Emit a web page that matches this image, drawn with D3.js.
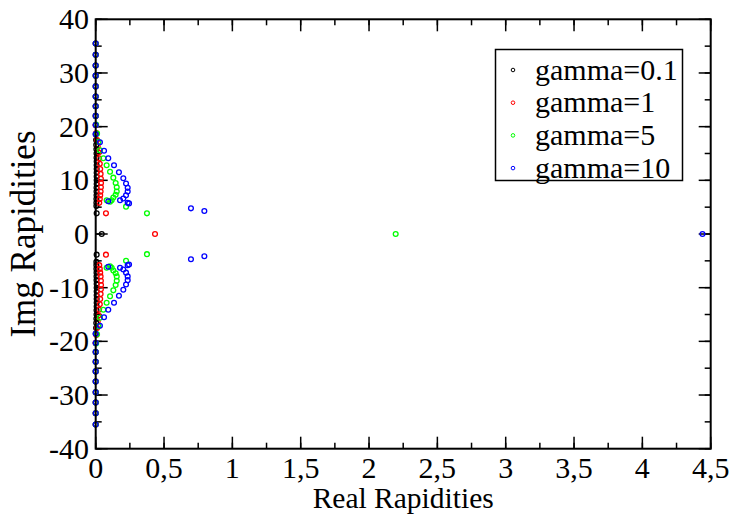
<!DOCTYPE html>
<html><head><meta charset="utf-8">
<script src="https://cdn.jsdelivr.net/npm/d3@7"></script>
<style>body{margin:0;background:#fff}svg{display:block}</style>
</head><body>
<svg id="c" width="733" height="518"></svg>
<script>
// ---- data ----
const seriesNames = ["gamma=0.1", "gamma=1", "gamma=5", "gamma=10"];
const seriesColors = ["#000000", "#ff0000", "#00ff00", "#0000ff"];
const xTicks = [0, 0.5, 1, 1.5, 2, 2.5, 3, 3.5, 4, 4.5];
const xTickLabels = ["0", "0,5", "1", "1,5", "2", "2,5", "3", "3,5", "4", "4,5"];
const yTicks = [-40, -30, -20, -10, 0, 10, 20, 30, 40];
const yTickLabels = ["-40", "-30", "-20", "-10", "0", "10", "20", "30", "40"];

const g01x = [0,0,0,0,0,0,0,0,0,0, 0.003,0.004,0.005,0.006,0.006,0.007,0.007,0.007,0.007,0.007,0.007,0.007,0.006,0.006,0.006,0.005,0.005,0.005, 0.007, 0.044,
  0.007, 0.005,0.005,0.005,0.006,0.006,0.006,0.007,0.007,0.007,0.007,0.007,0.007,0.007,0.006,0.006,0.005,0.004,0.003, 0,0,0,0,0,0,0,0,0,0];
const g01y = [35.5,33.4,31.4,29.5,27.5,25.6,23.8,22.0,20.3,18.6, 17.5,16.6,15.8,15.0,14.2,13.5,12.8,12.1,11.4,10.7,10.0,9.3,8.6,7.9,7.2,6.5,5.8,5.2, 3.85, 0,
  -3.85, -5.2,-5.8,-6.5,-7.2,-7.9,-8.6,-9.3,-10.0,-10.7,-11.4,-12.1,-12.8,-13.5,-14.2,-15.0,-15.8,-16.6,-17.5, -18.6,-20.3,-22.0,-23.8,-25.6,-27.5,-29.5,-31.4,-33.4,-35.5];

const g1x = [0,0,0,0,0,0,0,0,0, 0.005,0.010,0.015,0.020,0.025,0.030,0.033,0.036,0.038,0.039,0.038,0.036,0.033,0.030,0.026, 0.075, 0.434,
  0.075, 0.026,0.030,0.033,0.036,0.038,0.039,0.038,0.036,0.033,0.030,0.025,0.020,0.015,0.010,0.005, 0,0,0,0,0,0,0,0,0];
const g1y = [35.5,33.4,31.4,29.5,27.5,25.6,23.8,22.0,20.3, 18.8,17.5,16.3,15.2,14.1,13.1,12.1,11.2,10.3,9.5,8.7,7.9,7.2,6.5,5.8, 3.85, 0,
  -3.85, -5.8,-6.5,-7.2,-7.9,-8.7,-9.5,-10.3,-11.2,-12.1,-13.1,-14.1,-15.2,-16.3,-17.5,-18.8, -20.3,-22.0,-23.8,-25.6,-27.5,-29.5,-31.4,-33.4,-35.5];

const g5x = [0,0,0,0,0,0,0,0,0.003, 0.010,0.020,0.031,0.056,0.080,0.105,0.129,0.146,0.154,0.154,0.146,0.129,0.117,0.105,0.080, 0.222, 0.375, 2.195,
  0.375, 0.222, 0.080,0.105,0.117,0.129,0.146,0.154,0.154,0.146,0.129,0.105,0.080,0.056,0.031,0.020,0.010, 0.003,0,0,0,0,0,0,0,0];
const g5y = [35.5,33.4,31.4,29.5,27.5,25.6,23.8,22.0,20.4, 18.7,17.2,15.6,14.1,12.8,11.6,10.5,9.5,8.7,7.9,7.3,6.8,6.3,6.0,6.3, 5.1, 3.85, 0,
  -3.75, -5.0, -6.3,-6.0,-6.3,-6.8,-7.3,-7.9,-8.7,-9.5,-10.5,-11.6,-12.8,-14.1,-15.6,-17.2,-18.7, -20.4,-22.0,-23.8,-25.6,-27.5,-29.5,-31.4,-33.4,-35.5];

const g10x = [0,0,0,0,0,0,0,0,0,0, 0.031,0.061,0.092,0.134,0.170,0.202,0.222,0.234,0.234,0.222,0.202,0.178,0.092,0.234,0.244, 0.697,0.795, 4.44,
  0.795,0.697, 0.244,0.234,0.092,0.178,0.202,0.222,0.234,0.234,0.222,0.202,0.170,0.134,0.092,0.061,0.031, 0,0,0,0,0,0,0,0,0,0];
const g10y = [35.5,33.4,31.4,29.5,27.5,25.6,23.8,22.0,20.3,18.6, 17.1,15.5,14.1,12.8,11.5,10.4,9.4,8.6,7.9,7.2,6.6,6.3,6.1,5.8,5.7, 4.78,4.28, 0,
  -4.15,-4.71, -5.7,-5.8,-6.1,-6.3,-6.6,-7.2,-7.9,-8.6,-9.4,-10.4,-11.5,-12.8,-14.1,-15.5,-17.1, -18.6,-20.3,-22.0,-23.8,-25.6,-27.5,-29.5,-31.4,-33.4,-35.5];

const seriesX = [g01x, g1x, g5x, g10x];
const seriesY = [g01y, g1y, g5y, g10y];

// ---- layout ----
const FONT = "'Liberation Serif', 'Times New Roman', 'DejaVu Serif', serif";
const L = 95.7, R = 710.7, T = 19.3, B = 448.7;
const svg = d3.select("#c");
const x = d3.scaleLinear().domain([0, 4.5]).range([L, R]);
const y = d3.scaleLinear().domain([-40, 40]).range([B, T]);

const xMinor = d3.range(0, 4.5001, 0.25);
const yMinor = d3.range(-40, 40.001, 5);

function tickLines(sel, orientH, vals, len, atEdge, dir) {
  sel.selectAll(null).data(vals).enter().append("line")
    .attr("x1", d => orientH ? x(d) : atEdge)
    .attr("x2", d => orientH ? x(d) : atEdge + dir * len)
    .attr("y1", d => orientH ? atEdge : y(d))
    .attr("y2", d => orientH ? atEdge + dir * len : y(d))
    .attr("stroke", "#000").attr("stroke-width", 1.5);
}
const tg = svg.append("g");
tickLines(tg, true, xMinor, 6, B, -1);
tickLines(tg, true, xTicks, 12, B, -1);
tickLines(tg, true, xMinor, 6, T, 1);
tickLines(tg, true, xTicks, 12, T, 1);
tickLines(tg, false, yMinor, 6, L, 1);
tickLines(tg, false, yTicks, 12, L, 1);
tickLines(tg, false, yMinor, 6, R, -1);
tickLines(tg, false, yTicks, 12, R, -1);

// data points
seriesX.forEach((xs, si) => {
  const pts = xs.map((v, i) => [v, seriesY[si][i]]);
  svg.append("g").selectAll("circle").data(pts).enter().append("circle")
    .attr("cx", d => x(d[0])).attr("cy", d => y(d[1])).attr("r", 2.4)
    .attr("fill", "none").attr("stroke", seriesColors[si]).attr("stroke-width", 1.3);
});

// frame
svg.append("rect").attr("x", L).attr("y", T).attr("width", R - L).attr("height", B - T)
  .attr("fill", "none").attr("stroke", "#000").attr("stroke-width", 2);

// tick labels
svg.append("g").selectAll("text").data(xTicks).enter().append("text")
  .attr("x", d => x(d)).attr("y", 478).attr("text-anchor", "middle")
  .attr("font-family", FONT).attr("font-size", 30).text((d, i) => xTickLabels[i]);
svg.append("g").selectAll("text").data(yTicks).enter().append("text")
  .attr("x", 89).attr("y", d => y(d) + 10).attr("text-anchor", "end")
  .attr("font-family", FONT).attr("font-size", 30).text((d, i) => yTickLabels[i]);

// axis titles
svg.append("text").attr("x", (L + R) / 2).attr("y", 508).attr("text-anchor", "middle")
  .attr("font-family", FONT).attr("font-size", 29.5).text("Real Rapidities");
svg.append("text").attr("transform", `translate(35,${y(0)}) rotate(-90)`).attr("text-anchor", "middle")
  .attr("font-family", FONT).attr("font-size", 35).text("Img Rapidities");

// legend
const lg = svg.append("g");
lg.append("rect").attr("x", 495.5).attr("y", 49.5).attr("width", 187).attr("height", 131)
  .attr("fill", "#fff").attr("stroke", "#000").attr("stroke-width", 1.5);
seriesNames.forEach((n, i) => {
  const cy = 70 + i * 32.7;
  lg.append("circle").attr("cx", 513).attr("cy", cy).attr("r", 1.8)
    .attr("fill", "none").attr("stroke", seriesColors[i]).attr("stroke-width", 1);
  lg.append("text").attr("x", 535).attr("y", cy + 9.5).attr("font-family", FONT)
    .attr("font-size", 30).text(n);
});
</script>
</body></html>
